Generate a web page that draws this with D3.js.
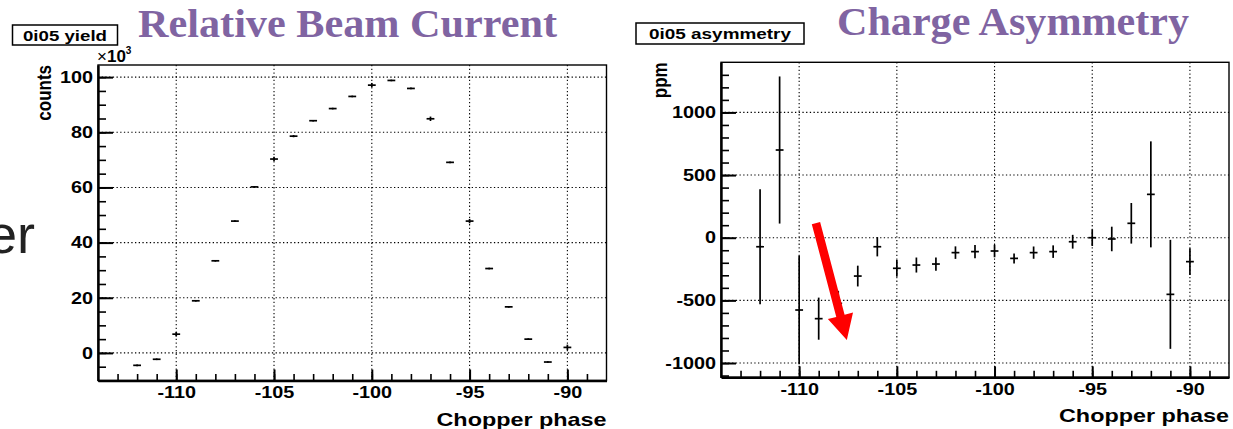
<!DOCTYPE html>
<html>
<head>
<meta charset="utf-8">
<script src="https://cdn.jsdelivr.net/npm/d3@7"></script>
<style>
  body { margin: 0; background: #fff; }
  svg { display: block; font-family: "Liberation Sans", Arial, sans-serif; }
</style>
</head>
<body>
<svg id="chart" width="1233" height="429"></svg>
<script>
// chopper phase of each bin
const phases = [-112, -111, -110, -109, -108, -107, -106, -105, -104, -103, -102, -101,
                -100, -99, -98, -97, -96, -95, -94, -93, -92, -91, -90];
// yield, in units of 10^3 counts
const yieldK = [-4.5, -2.3, 6.8, 18.9, 33.4, 47.8, 60.2, 70.3, 78.6, 84.2, 88.6, 93.0,
                97.1, 98.8, 95.9, 84.9, 69.1, 47.8, 30.6, 16.7, 5.0, -3.3, 2.0];
const yieldErr = [0.3, 0.3, 0.8, 0.3, 0.3, 0.3, 0.3, 0.8, 0.4, 0.3, 0.3, 0.3,
                  0.8, 0.3, 0.3, 0.8, 0.3, 0.8, 0.3, 0.3, 0.3, 0.3, 1.0];
// charge asymmetry in ppm
const asym = [-72, 700, -577, -646, -524, -306, -72, -244, -218, -210, -119, -111,
              -106, -165, -119, -111, -32, 0, -10, 115, 346, -452, -191];
const asymErr = [458, 587, 433, 168, 100, 83, 77, 67, 60, 53, 50, 53,
                 50, 40, 49, 50, 55, 66, 98, 162, 423, 435, 107];
const binHalf = 0.2;

const xMajor = [-110, -105, -100, -95, -90];
const yieldMajor = [0, 20, 40, 60, 80, 100];
const asymMajor = [-1000, -500, 0, 500, 1000];

// red annotation arrow on the asymmetry plot (phase, ppm)
const arrowFrom = [-109.14, 117];
const arrowTo = [-107.56, -816];

const svg = d3.select("#chart");
const purple = "#8064a2";
const plain = d => String(d);

const stretch = (sel, k) => sel.each(function () {
    const w = this.getComputedTextLength();
    d3.select(this).attr("textLength", w * k).attr("lengthAdjust", "spacingAndGlyphs");
});

// left-side slide remnant
svg.append("text")
    .attr("x", -13).attr("y", 253)
    .style("font-size", "54px").style("fill", "#222")
    .text("er");

const drawPanel = cfg => {
    const g = svg.append("g");
    const f = cfg.frame;
    const x = d3.scaleLinear().domain([-114, -88]).range([f.l, f.r]);
    const y = d3.scaleLinear().domain(cfg.yDomain).range([f.b, f.t]);

    // title
    g.append("text")
        .attr("x", cfg.titlePos[0]).attr("y", cfg.titlePos[1])
        .attr("textLength", cfg.titleWidth).attr("lengthAdjust", "spacingAndGlyphs")
        .style("font-family", "'Liberation Serif', 'Times New Roman', serif")
        .style("font-weight", "bold").style("font-size", "40px")
        .style("fill", purple)
        .text(cfg.title);

    // stat-style name box
    const b = cfg.box;
    g.append("rect")
        .attr("x", b.x).attr("y", b.y).attr("width", b.w).attr("height", b.h)
        .attr("fill", "#fff").attr("stroke", "#000").attr("stroke-width", 1.5);
    g.append("text")
        .attr("x", b.x + b.w / 2).attr("y", b.y + b.h / 2 + 5.5)
        .attr("text-anchor", "middle")
        .attr("textLength", b.tw).attr("lengthAdjust", "spacingAndGlyphs")
        .style("font-size", "15.5px").style("font-weight", "bold")
        .text(b.label);

    // grid
    const grid = g.append("g").attr("stroke", "#000").attr("stroke-width", 1.1)
        .attr("stroke-dasharray", "1.3,2.4");
    grid.selectAll("line.v").data(xMajor).join("line")
        .attr("x1", d => x(d)).attr("x2", d => x(d))
        .attr("y1", f.t).attr("y2", f.b);
    grid.selectAll("line.h").data(cfg.yMajor).join("line")
        .attr("x1", f.l).attr("x2", f.r)
        .attr("y1", d => y(d)).attr("y2", d => y(d));

    // frame
    g.append("rect")
        .attr("x", f.l).attr("y", f.t).attr("width", f.r - f.l).attr("height", f.b - f.t)
        .attr("fill", "none").attr("stroke", "#000").attr("stroke-width", 1.4);

    // minor ticks
    const minorY = d3.range(cfg.yMinor[0], cfg.yDomain[1], cfg.yMinor[1]);
    g.append("g").attr("transform", `translate(${f.l},0)`)
        .call(d3.axisLeft(y).tickValues(minorY).tickSizeInner(-8).tickSizeOuter(0).tickFormat(""))
        .call(a => a.select(".domain").remove())
        .selectAll("line").attr("stroke-width", 1.6);
    g.append("g").attr("transform", `translate(0,${f.b})`)
        .call(d3.axisBottom(x).tickValues(d3.range(-113, -88)).tickSizeInner(-6.5).tickSizeOuter(0).tickFormat(""))
        .call(a => a.select(".domain").remove())
        .selectAll("line").attr("stroke-width", 1.6);

    // major axes
    const yAx = g.append("g").attr("transform", `translate(${f.l},0)`)
        .call(d3.axisLeft(y).tickValues(cfg.yMajor).tickFormat(plain)
            .tickSizeInner(-15).tickSizeOuter(0).tickPadding(5));
    const xAx = g.append("g").attr("transform", `translate(0,${f.b})`)
        .call(d3.axisBottom(x).tickValues(xMajor).tickFormat(plain)
            .tickSizeInner(-11).tickSizeOuter(0).tickPadding(6));
    [yAx, xAx].forEach(a => {
        a.select(".domain").attr("stroke-width", 2.4);
        a.selectAll("line").attr("stroke-width", 2);
        a.selectAll("text")
            .style("font-family", "'Liberation Sans', Arial, sans-serif")
            .style("font-size", "16.5px").style("font-weight", "bold").style("fill", "#000")
            .call(stretch, 1.2);
    });

    // axis titles
    g.append("text")
        .attr("x", f.r).attr("y", f.b + 45)
        .attr("text-anchor", "end")
        .attr("textLength", 170).attr("lengthAdjust", "spacingAndGlyphs")
        .style("font-size", "18.5px").style("font-weight", "bold")
        .text("Chopper phase");
    g.append("text")
        .attr("transform", `translate(${cfg.yTitleX},${f.t}) rotate(-90) scale(1,1.2)`)
        .attr("text-anchor", "end")
        .style("font-size", "17px").style("font-weight", "bold")
        .text(cfg.yTitle);

    // data
    const pts = phases.map((p, i) => ({ p, v: cfg.values[i], e: cfg.errs[i] }));
    const marks = g.append("g").attr("stroke", "#000").attr("stroke-width", 1.7);
    marks.selectAll("line.ev").data(pts).join("line")
        .attr("x1", d => x(d.p)).attr("x2", d => x(d.p))
        .attr("y1", d => y(d.v - d.e)).attr("y2", d => y(d.v + d.e));
    marks.selectAll("line.eh").data(pts).join("line")
        .attr("x1", d => x(d.p - binHalf)).attr("x2", d => x(d.p + binHalf))
        .attr("y1", d => y(d.v)).attr("y2", d => y(d.v));

    return { g, x, y };
};

const left = drawPanel({
    frame: { l: 98, r: 606.5, t: 65, b: 380.5 },
    yDomain: [-10, 104.4],
    yMajor: yieldMajor,
    yMinor: [-10, 5],
    values: yieldK,
    errs: yieldErr,
    yTitle: "counts",
    yTitleX: 51,
    title: "Relative Beam Current",
    titlePos: [138, 37],
    titleWidth: 419,
    box: { x: 12.5, y: 25, w: 105, h: 20, label: "0i05 yield", tw: 84 }
});

// x10^3 multiplier
left.g.append("text")
    .attr("x", 97).attr("y", 62)
    .style("font-size", "17px")
    .call(t => t.append("tspan").text("×"))
    .call(t => t.append("tspan").style("font-weight", "bold").text("10"))
    .call(t => t.append("tspan").attr("dy", -8).style("font-size", "10px").style("font-weight", "bold").text("3"));

const right = drawPanel({
    frame: { l: 721, r: 1229, t: 62.3, b: 377.3 },
    yDomain: [-1114, 1400],
    yMajor: asymMajor,
    yMinor: [-1100, 100],
    values: asym,
    errs: asymErr,
    yTitle: "ppm",
    yTitleX: 667,
    title: "Charge Asymmetry",
    titlePos: [837, 35],
    titleWidth: 352,
    box: { x: 636, y: 23, w: 168, h: 21, label: "0i05 asymmetry", tw: 142 }
});

// red arrow
{
    const x0 = right.x(arrowFrom[0]), y0 = right.y(arrowFrom[1]);
    const x1 = right.x(arrowTo[0]), y1 = right.y(arrowTo[1]);
    const len = Math.hypot(x1 - x0, y1 - y0);
    const ux = (x1 - x0) / len, uy = (y1 - y0) / len;
    const nx = -uy, ny = ux;
    const sw = 4.3, hw = 13, hl = 25;
    const bx = x1 - ux * hl, by = y1 - uy * hl;
    const poly = [
        [x0 + nx * sw, y0 + ny * sw],
        [bx + nx * sw, by + ny * sw],
        [bx + nx * hw, by + ny * hw],
        [x1, y1],
        [bx - nx * hw, by - ny * hw],
        [bx - nx * sw, by - ny * sw],
        [x0 - nx * sw, y0 - ny * sw]
    ];
    right.g.append("path")
        .attr("d", d3.line()(poly) + "Z")
        .attr("fill", "#ff0000");
}
</script>
</body>
</html>
